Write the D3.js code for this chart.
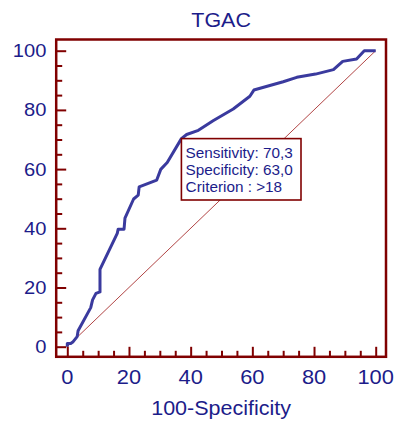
<!DOCTYPE html>
<html>
<head>
<meta charset="utf-8">
<script src="https://cdn.jsdelivr.net/npm/d3@7"></script>
<style>
  html, body { margin: 0; padding: 0; background: #fff; }
  svg { display: block; }
  text { font-family: "Liberation Sans", Arial, sans-serif; }
</style>
</head>
<body>
<svg id="chart" width="397" height="422"></svg>
<script>
// ---- data ----
const title = "TGAC";
const xLabel = "100-Specificity";
const fpr = [0, 0, 1.1, 1.9, 3.2, 3.5, 7.6, 8.2, 9.3, 10.6, 10.6, 16.2, 16.5, 18.4, 18.7, 21.5, 23, 23.3, 29, 30.3, 32.4, 37, 38.7, 42.5, 47.4, 53.8, 59.2, 60.5, 70, 74.4, 80.5, 86.3, 89.3, 93.8, 96.3, 100];
const tpr = [0, 1.1, 1.1, 1.7, 3.4, 5.4, 13.2, 15.8, 18, 18.5, 26.1, 38.3, 39.7, 39.7, 43.4, 49.9, 51.2, 54, 56.3, 59.9, 62.2, 70.3, 71.7, 73.1, 76.4, 80.3, 84.6, 86.7, 89.5, 91, 92.1, 93.6, 96.4, 97.2, 100, 100];
const diagonal = [[0, 0], [100, 100]];
const majorTicks = [0, 20, 40, 60, 80, 100];
const minorTicks = [0, 5, 10, 15, 20, 25, 30, 35, 40, 45, 50, 55, 60, 65, 70, 75, 80, 85, 90, 95, 100];
const criterionPoint = [37, 70.3];
const annotationLines = ["Sensitivity: 70,3", "Specificity: 63,0", "Criterion : >18"];

// ---- layout ----
const frame = { left: 56.2, top: 39.5, right: 386, bottom: 356.8 };
const maroon = "#800000";
const navy = "#1c1c8a";
const curveColor = "#3a3a9e";

const svg = d3.select("#chart");
const x = d3.scaleLinear().domain([0, 100]).range([67.3, 375.7]);
const y = d3.scaleLinear().domain([0, 100]).range([346.7, 50.7]);

function stretchedText(sel, px, py, sx) {
  return sel.attr("transform", `translate(${px},${py}) scale(${sx},1)`);
}

// diagonal
svg.append("path")
  .datum(diagonal)
  .attr("d", d3.line().x(d => x(d[0])).y(d => y(d[1])))
  .attr("fill", "none")
  .attr("stroke", "#a83030")
  .attr("stroke-width", 0.9);

// ROC curve
const pts = fpr.map((v, i) => [v, tpr[i]]);
svg.append("path")
  .datum(pts)
  .attr("d", d3.line().x(d => x(d[0])).y(d => y(d[1])))
  .attr("fill", "none")
  .attr("stroke", curveColor)
  .attr("stroke-width", 3)
  .attr("stroke-linejoin", "round");

// frame
svg.append("rect")
  .attr("x", frame.left).attr("y", frame.top)
  .attr("width", frame.right - frame.left).attr("height", frame.bottom - frame.top)
  .attr("fill", "none").attr("stroke", maroon).attr("stroke-width", 2.5);

// axes: ticks pointing into the plot
const minorOnly = minorTicks.filter(v => !majorTicks.includes(v));

function styleAxis(g) {
  g.select(".domain").remove();
  g.selectAll(".tick line").attr("stroke", maroon).attr("stroke-width", 2);
}

// y minor
svg.append("g").attr("transform", `translate(${frame.left},0)`)
  .call(d3.axisRight(y).tickValues(minorOnly).tickSize(6).tickFormat(""))
  .call(styleAxis);
// y major
const yMajor = svg.append("g").attr("transform", `translate(${frame.left},0)`)
  .call(d3.axisRight(y).tickValues(majorTicks).tickSize(10).tickFormat(""))
  .call(styleAxis);
// x minor
svg.append("g").attr("transform", `translate(0,${frame.bottom})`)
  .call(d3.axisTop(x).tickValues(minorOnly).tickSize(6).tickFormat(""))
  .call(styleAxis);
// x major
svg.append("g").attr("transform", `translate(0,${frame.bottom})`)
  .call(d3.axisTop(x).tickValues(majorTicks).tickSize(10).tickFormat(""))
  .call(styleAxis);

// tick labels
const yLab = svg.append("g");
majorTicks.forEach(v => {
  stretchedText(yLab.append("text"), 46.5, y(v) + 6.5, 1.12)
    .attr("text-anchor", "end")
    .attr("font-size", 18)
    .attr("fill", navy)
    .text(v);
});
const xLab = svg.append("g");
majorTicks.forEach(v => {
  stretchedText(xLab.append("text"), x(v), 384.3, 1.12)
    .attr("text-anchor", "middle")
    .attr("font-size", 19.5)
    .attr("fill", navy)
    .text(v);
});

// title
stretchedText(svg.append("text"), (frame.left + frame.right) / 2, 27.3, 1.1)
  .attr("text-anchor", "middle")
  .attr("font-size", 19.5)
  .attr("fill", navy)
  .text(title);

// x axis title
stretchedText(svg.append("text"), (frame.left + frame.right) / 2, 415, 1.05)
  .attr("text-anchor", "middle")
  .attr("font-size", 20.5)
  .attr("fill", navy)
  .text(xLabel);

// annotation box
const bx = x(criterionPoint[0]), by = y(criterionPoint[1]);
const box = svg.append("g");
box.append("rect")
  .attr("x", bx).attr("y", by)
  .attr("width", 301 - bx).attr("height", 200 - by)
  .attr("fill", "#fff").attr("stroke", maroon).attr("stroke-width", 1.6);
annotationLines.forEach((t, i) => {
  box.append("text")
    .attr("x", bx + 4.2)
    .attr("y", by + 19 + i * 17.4)
    .attr("font-size", 15.3)
    .attr("fill", navy)
    .text(t);
});
</script>
</body>
</html>
